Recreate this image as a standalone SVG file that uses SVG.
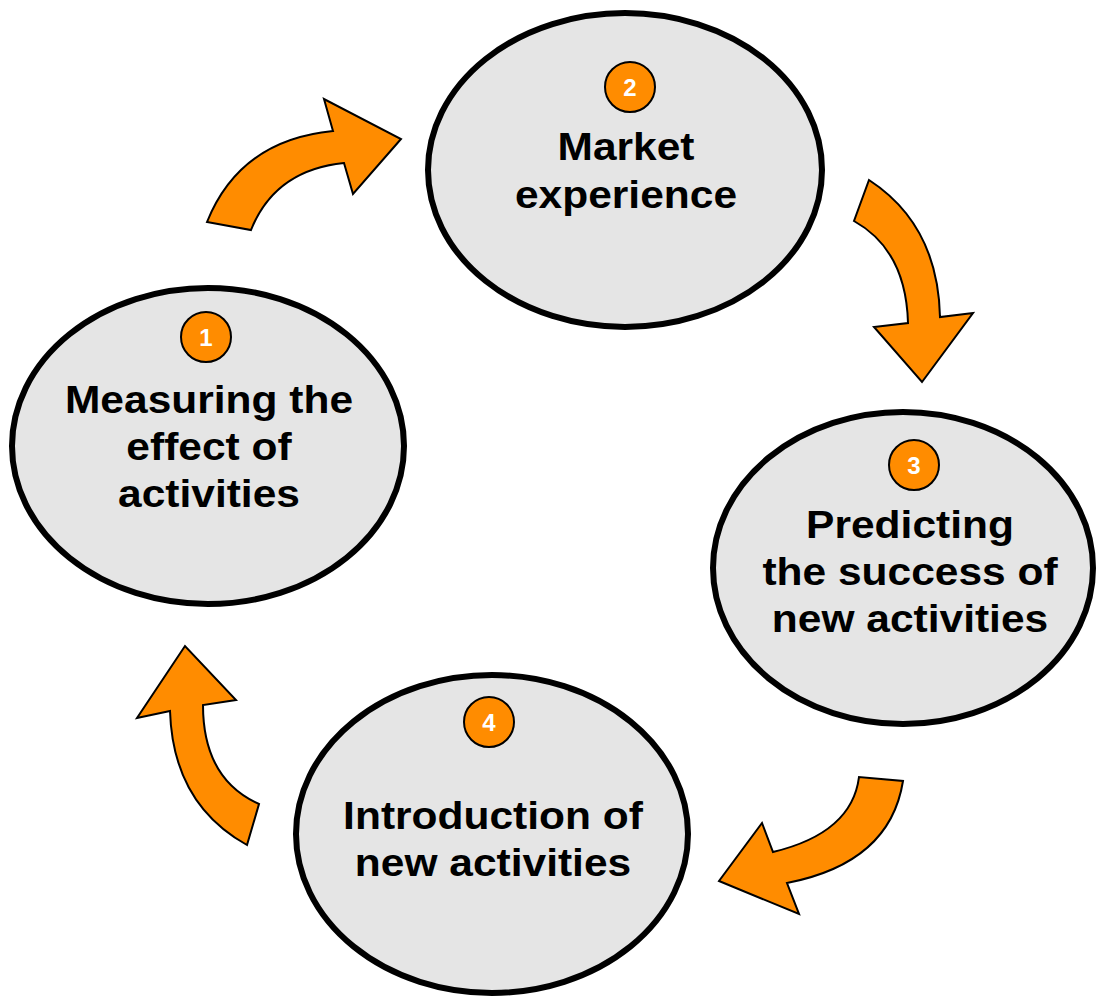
<svg xmlns="http://www.w3.org/2000/svg" width="1096" height="997" viewBox="0 0 1096 997">
  <style>
    .stage { fill: #e5e5e5; stroke: #000; stroke-width: 6; }
    .badge { fill: #ff8c00; stroke: #000; stroke-width: 2; }
    .num { font-family: "Liberation Sans", Arial, sans-serif; font-weight: bold; font-size: 24px; fill: #fff; text-anchor: middle; }
    .label { font-family: "Liberation Sans", Arial, sans-serif; font-weight: bold; font-size: 39px; fill: #000; text-anchor: middle; }
    .flow { fill: #ff8c00; stroke: #000; stroke-width: 2; stroke-linejoin: miter; }
  </style>

  <!-- curved arrows between stages -->
  <g id="connectors">
    <path class="flow" d="M207,222 Q240,140 333,131 L324,99 L401,139 L353,194 L344,163 Q275,170 251,230 Z"/>
    <path class="flow" d="M869,180 Q938,225 940,317 L973,313 L922,382 L874,327 L908,323 Q906,250 854,221 Z"/>
    <path class="flow" d="M903,781 Q890,863 787,883 L799,914 L719,881 L762,823 L773,852 Q852,833 859,777 Z"/>
    <path class="flow" d="M247,845 Q173,804 170,711 L137,718 L185,646 L236,700 L203,705 Q203,779 259,804 Z"/>
  </g>

  <!-- labels use slightly widened glyphs: translate to the line centre, then stretch horizontally -->
  <g id="stage-1">
    <ellipse class="stage" cx="208" cy="446" rx="196" ry="158"/>
    <circle class="badge" cx="206" cy="337" r="25"/>
    <text class="num" x="206" y="346">1</text>
    <text class="label" transform="translate(209,413) scale(1.09,1)">Measuring the</text>
    <text class="label" transform="translate(209,460) scale(1.09,1)">effect of</text>
    <text class="label" transform="translate(209,507) scale(1.09,1)">activities</text>
  </g>

  <g id="stage-2">
    <ellipse class="stage" cx="625" cy="170" rx="197" ry="157"/>
    <circle class="badge" cx="630" cy="87" r="25"/>
    <text class="num" x="630" y="96">2</text>
    <text class="label" transform="translate(626,160) scale(1.09,1)">Market</text>
    <text class="label" transform="translate(626,208) scale(1.09,1)">experience</text>
  </g>

  <g id="stage-3">
    <ellipse class="stage" cx="903" cy="568" rx="190" ry="156"/>
    <circle class="badge" cx="914" cy="465" r="25"/>
    <text class="num" x="914" y="474">3</text>
    <text class="label" transform="translate(910,538) scale(1.09,1)">Predicting</text>
    <text class="label" transform="translate(910,585) scale(1.09,1)">the success of</text>
    <text class="label" transform="translate(910,632) scale(1.09,1)">new activities</text>
  </g>

  <g id="stage-4">
    <ellipse class="stage" cx="492" cy="834" rx="196" ry="159"/>
    <circle class="badge" cx="489" cy="722" r="25"/>
    <text class="num" x="489" y="731">4</text>
    <text class="label" transform="translate(493,829) scale(1.09,1)">Introduction of</text>
    <text class="label" transform="translate(493,876) scale(1.09,1)">new activities</text>
  </g>
</svg>
